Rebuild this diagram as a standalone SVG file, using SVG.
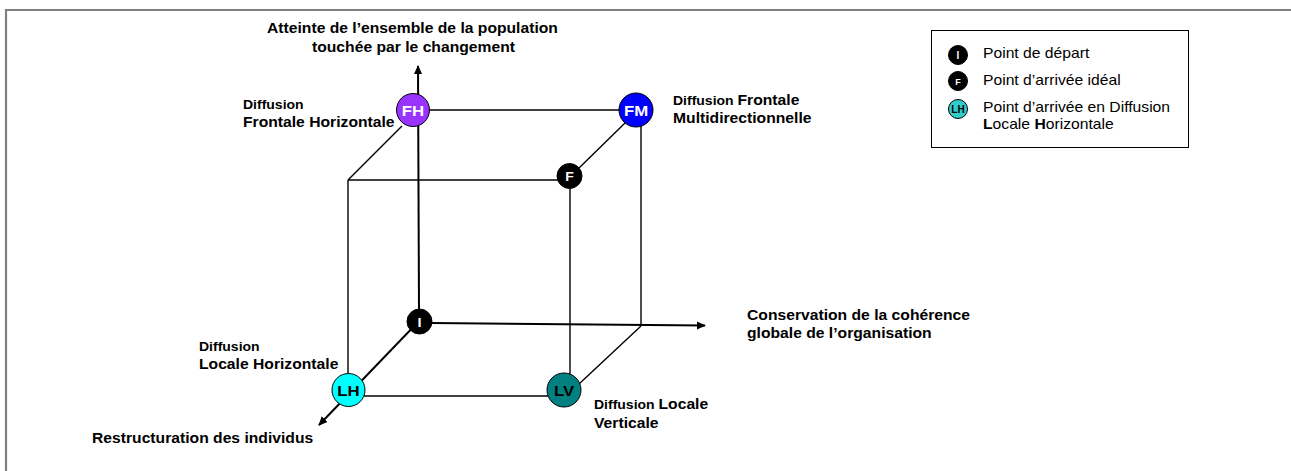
<svg xmlns="http://www.w3.org/2000/svg" width="1291" height="471" viewBox="0 0 1291 471">
<style>
text{font-family:"Liberation Sans",Arial,sans-serif;fill:#000}
.b{font-weight:bold;font-size:14px}
.s{font-weight:bold;font-size:12.5px}
.r{font-size:14px}
.ax{stroke:#000;stroke-width:2;fill:none}
.ed{stroke:#000;stroke-width:1.4;fill:none}
.nd{stroke:#000;stroke-width:1}
.wl{fill:#fff;font-weight:bold;font-size:15px;text-anchor:middle}
.kl{fill:#000;font-weight:bold;font-size:15px;text-anchor:middle}
</style>
<defs>
<marker id="ah" viewBox="0 0 10 10" refX="9" refY="5" markerWidth="4.5" markerHeight="4.5" orient="auto" markerUnits="strokeWidth">
<path d="M0,0.5 L10,5 L0,9.5 z" fill="#000"/>
</marker>
</defs>
<rect width="1291" height="471" fill="#fff"/>
<g id="frame">
<line x1="5" y1="10" x2="1291" y2="10" stroke="#808080" stroke-width="2.2"/>
<line x1="6" y1="9" x2="6" y2="471" stroke="#808080" stroke-width="2.2"/>
</g>
<g id="connectors">
<line class="ax" x1="419" y1="310" x2="418" y2="66" marker-end="url(#ah)"/>
<line class="ax" x1="431" y1="323" x2="705" y2="325.5" marker-end="url(#ah)"/>
<line class="ax" x1="419" y1="321" x2="319" y2="425" marker-end="url(#ah)"/>
<line class="ed" x1="429" y1="110" x2="619" y2="110"/>
<line class="ed" x1="402" y1="126" x2="348" y2="180"/>
<line class="ed" x1="348" y1="180" x2="558" y2="180"/>
<line class="ed" x1="625" y1="123" x2="578" y2="169"/>
<line class="ed" x1="348" y1="180" x2="348" y2="374"/>
<line class="ed" x1="570" y1="188" x2="570" y2="375"/>
<line class="ed" x1="641" y1="126" x2="641" y2="326"/>
<line class="ed" x1="641" y1="326" x2="579" y2="384"/>
<line class="ed" x1="364" y1="396" x2="548" y2="396"/>
</g>
<g id="node-FH">
<circle class="nd" cx="413" cy="110" r="16.5" fill="#9933FF"/>
<text class="wl" transform="matrix(1.12 0 0 1 413 115.5)">FH</text>
<text class="s" transform="matrix(1.12 0 0 1 243 109)">Diffusion</text>
<text class="b" transform="matrix(1.12 0 0 1 243 127)">Frontale Horizontale</text>
</g>
<g id="node-FM">
<circle class="nd" cx="636" cy="110" r="17" fill="#0000FF"/>
<text class="wl" transform="matrix(1.12 0 0 1 636 115.5)">FM</text>
<text transform="matrix(1.12 0 0 1 673 105)"><tspan class="s">Diffusion </tspan><tspan class="b">Frontale</tspan></text>
<text class="b" transform="matrix(1.12 0 0 1 673 123)">Multidirectionnelle</text>
</g>
<g id="node-F">
<circle class="nd" cx="569.5" cy="176" r="12.5" fill="#000"/>
<text class="wl" style="font-size:12.5px" transform="matrix(1.12 0 0 1 569.5 180.5)">F</text>
</g>
<g id="node-I">
<circle class="nd" cx="419.5" cy="321.5" r="12.5" fill="#000"/>
<text class="wl" style="font-size:13px" transform="matrix(1.12 0 0 1 419.5 326.5)">I</text>
</g>
<g id="node-LH">
<circle class="nd" cx="348.5" cy="390" r="16.5" fill="#00FFFF"/>
<text class="kl" transform="matrix(1.12 0 0 1 348.5 395.5)">LH</text>
<text class="s" transform="matrix(1.12 0 0 1 199 351)">Diffusion</text>
<text class="b" transform="matrix(1.12 0 0 1 199 369)">Locale Horizontale</text>
</g>
<g id="node-LV">
<circle class="nd" cx="564" cy="390" r="17" fill="#008080"/>
<text class="kl" transform="matrix(1.12 0 0 1 564 395.5)">LV</text>
<text transform="matrix(1.12 0 0 1 594 409)"><tspan class="s">Diffusion </tspan><tspan class="b">Locale</tspan></text>
<text class="b" transform="matrix(1.12 0 0 1 594 428)">Verticale</text>
</g>
<g id="axis-labels">
<text class="b" transform="matrix(1.12 0 0 1 267 33)">Atteinte de l’ensemble de la population</text>
<text class="b" transform="matrix(1.12 0 0 1 312 52)">touchée par le changement</text>
<text class="b" transform="matrix(1.12 0 0 1 747 320)">Conservation de la cohérence</text>
<text class="b" transform="matrix(1.12 0 0 1 747 338)">globale de l’organisation</text>
<text class="b" transform="matrix(1.12 0 0 1 92 443)">Restructuration des individus</text>
</g>
<g id="legend">
<rect x="931.5" y="30.5" width="257" height="117" fill="#fff" stroke="#000" stroke-width="1"/>
<circle class="nd" cx="958" cy="55" r="9.5" fill="#000"/>
<text class="wl" style="font-size:10px" transform="translate(958 58.5)">I</text>
<circle class="nd" cx="958" cy="81" r="9.5" fill="#000"/>
<text class="wl" style="font-size:9px" transform="translate(958 84.5)">F</text>
<circle class="nd" cx="958" cy="109" r="9.5" fill="#33CCCC"/>
<text class="kl" style="font-size:10px" transform="translate(958 112.5)">LH</text>
<text class="r" transform="matrix(1.12 0 0 1 983 58)">Point de départ</text>
<text class="r" transform="matrix(1.12 0 0 1 983 85)">Point d’arrivée idéal</text>
<text class="r" transform="matrix(1.12 0 0 1 983 112)">Point d’arrivée en Diffusion</text>
<text class="r" transform="matrix(1.12 0 0 1 983 129)"><tspan font-weight="bold">L</tspan>ocale <tspan font-weight="bold">H</tspan>orizontale</text>
</g>
</svg>
